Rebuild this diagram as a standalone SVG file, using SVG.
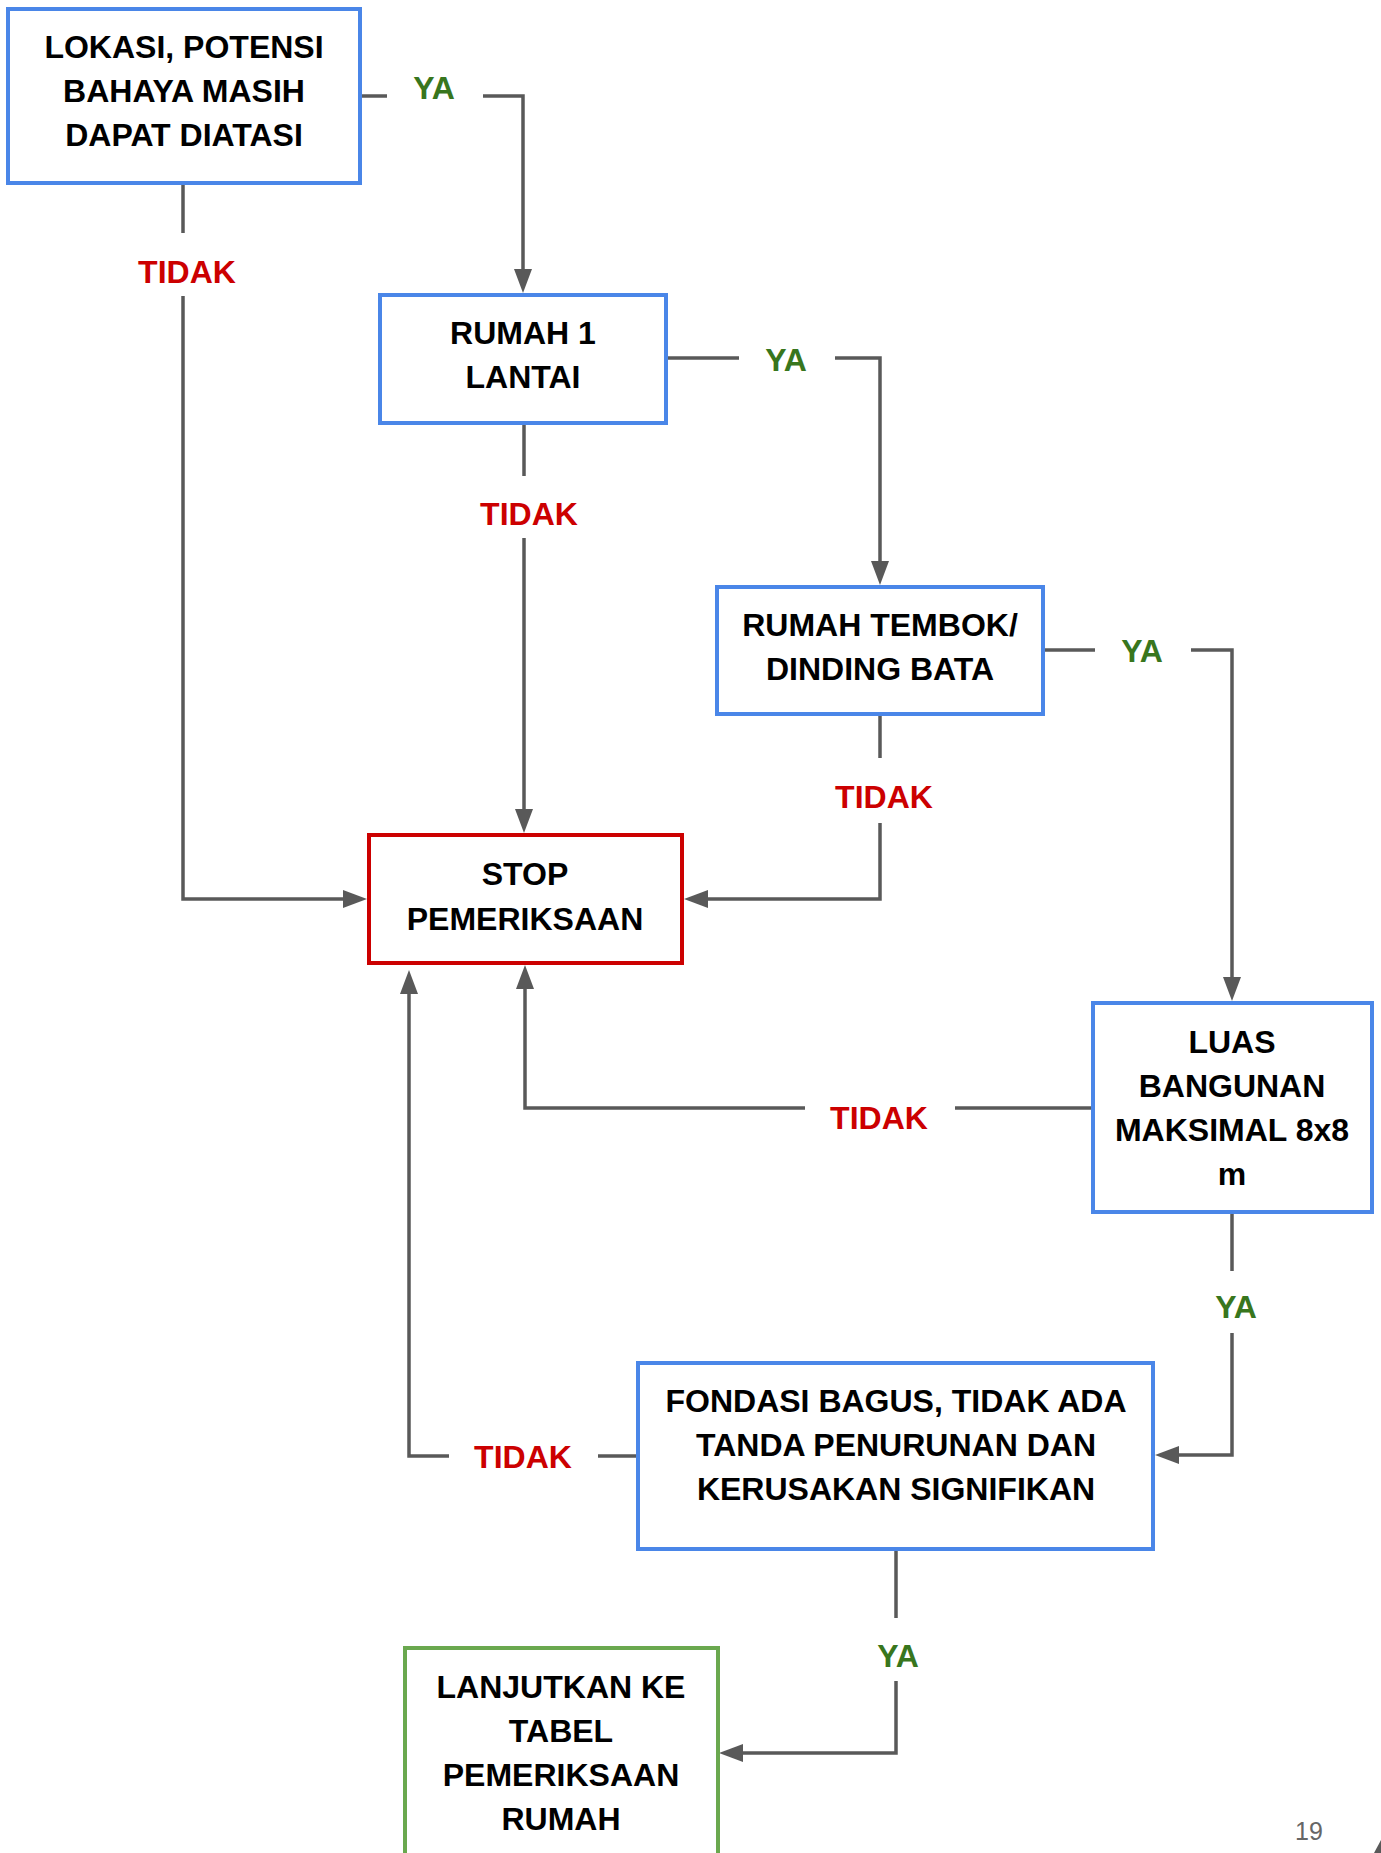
<svg xmlns="http://www.w3.org/2000/svg" width="1381" height="1853" viewBox="0 0 1381 1853">
<style>
  .box { fill: #ffffff; stroke-width: 4; }
  .blue { stroke: #4a86e8; }
  .red { stroke: #cc0000; }
  .green { stroke: #6aa84f; }
  .t { font-family: "Liberation Sans", Arial, sans-serif; font-weight: bold; font-size: 32px; fill: #000000; text-anchor: middle; }
  .ya { font-family: "Liberation Sans", Arial, sans-serif; font-weight: bold; font-size: 32px; fill: #38761d; text-anchor: middle; }
  .no { font-family: "Liberation Sans", Arial, sans-serif; font-weight: bold; font-size: 32px; fill: #cc0000; text-anchor: middle; }
  .c { fill: none; stroke: #595959; stroke-width: 3.5; marker-end: url(#arr); }
  .pg { font-family: "Liberation Sans", Arial, sans-serif; font-size: 25px; fill: #666666; text-anchor: middle; }
</style>
<defs>
  <marker id="arr" markerUnits="userSpaceOnUse" markerWidth="24" markerHeight="18" refX="16" refY="9" orient="auto" overflow="visible">
    <path d="M0,0 L24,9 L0,18 z" fill="#595959"/>
  </marker>
</defs>
<rect width="1381" height="1853" fill="#ffffff"/>

<g id="connectors">
  <path class="c" d="M360,96 H387 M483,96 H523 V285"/>
  <path class="c" d="M183,183 V233 M183,296 V899 H359"/>
  <path class="c" d="M524,423 V476 M524,538 V825"/>
  <path class="c" d="M666,358 H739 M835,358 H880 V577"/>
  <path class="c" d="M880,714 V758 M880,823 V899 H692"/>
  <path class="c" d="M1043,650 H1095 M1191,650 H1232 V993"/>
  <path class="c" d="M1093,1108 H955 M805,1108 H525 V973"/>
  <path class="c" d="M1232,1211 V1271 M1232,1333 V1455 H1163"/>
  <path class="c" d="M638,1456 H598 M449,1456 H409 V978"/>
  <path class="c" d="M896,1548 V1618 M896,1681 V1753 H727"/>
</g>

<g id="labels">
  <text class="ya" x="434" y="99">YA</text>
  <text class="no" x="187" y="283">TIDAK</text>
  <text class="no" x="529" y="525">TIDAK</text>
  <text class="ya" x="786" y="371">YA</text>
  <text class="no" x="884" y="808">TIDAK</text>
  <text class="ya" x="1142" y="662">YA</text>
  <text class="no" x="879" y="1129">TIDAK</text>
  <text class="ya" x="1236" y="1318">YA</text>
  <text class="no" x="523" y="1468">TIDAK</text>
  <text class="ya" x="898" y="1667">YA</text>
</g>

<g id="lokasi">
  <rect class="box blue" x="8" y="9" width="352" height="174"/>
  <text class="t" x="184" y="58">LOKASI, POTENSI</text>
  <text class="t" x="184" y="102">BAHAYA MASIH</text>
  <text class="t" x="184" y="146">DAPAT DIATASI</text>
</g>

<g id="rumah1lantai">
  <rect class="box blue" x="380" y="295" width="286" height="128"/>
  <text class="t" x="523" y="344">RUMAH 1</text>
  <text class="t" x="523" y="388">LANTAI</text>
</g>

<g id="tembok">
  <rect class="box blue" x="717" y="587" width="326" height="127"/>
  <text class="t" x="880" y="636">RUMAH TEMBOK/</text>
  <text class="t" x="880" y="680">DINDING BATA</text>
</g>

<g id="stop">
  <rect class="box red" x="369" y="835" width="313" height="128"/>
  <text class="t" x="525" y="885">STOP</text>
  <text class="t" x="525" y="930">PEMERIKSAAN</text>
</g>

<g id="luas">
  <rect class="box blue" x="1093" y="1003" width="279" height="209"/>
  <text class="t" x="1232" y="1053">LUAS</text>
  <text class="t" x="1232" y="1097">BANGUNAN</text>
  <text class="t" x="1232" y="1141">MAKSIMAL 8x8</text>
  <text class="t" x="1232" y="1185">m</text>
</g>

<g id="fondasi">
  <rect class="box blue" x="638" y="1363" width="515" height="186"/>
  <text class="t" x="896" y="1412">FONDASI BAGUS, TIDAK ADA</text>
  <text class="t" x="896" y="1456">TANDA PENURUNAN DAN</text>
  <text class="t" x="896" y="1500">KERUSAKAN SIGNIFIKAN</text>
</g>

<g id="lanjutkan">
  <rect class="box green" x="405" y="1648" width="313" height="240"/>
  <text class="t" x="561" y="1698">LANJUTKAN KE</text>
  <text class="t" x="561" y="1742">TABEL</text>
  <text class="t" x="561" y="1786">PEMERIKSAAN</text>
  <text class="t" x="561" y="1830">RUMAH</text>
</g>

<text class="pg" x="1309" y="1840">19</text>
<polygon points="1374,1853 1381,1840 1381,1853" fill="#595959"/>
</svg>
